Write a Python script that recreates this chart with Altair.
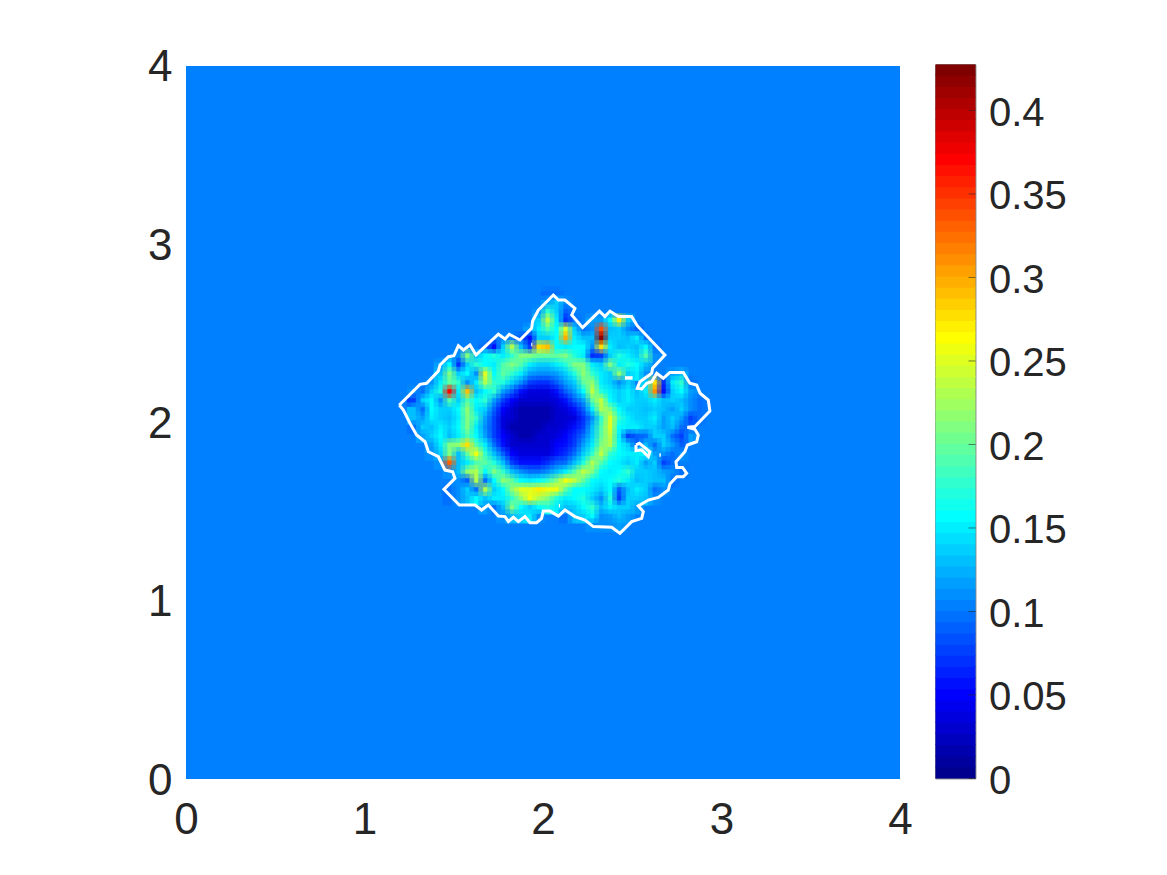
import altair as alt
import pandas as pd

JET = ["#00008F","#00009F","#0000AF","#0000BF","#0000CF","#0000DF","#0000EF","#0000FF",
       "#0010FF","#0020FF","#0030FF","#0040FF","#0050FF","#0060FF","#0070FF","#0080FF",
       "#008FFF","#009FFF","#00AFFF","#00BFFF","#00CFFF","#00DFFF","#00EFFF","#00FFFF",
       "#10FFEF","#20FFDF","#30FFCF","#40FFBF","#50FFAF","#60FF9F","#70FF8F","#80FF80",
       "#8FFF70","#9FFF60","#AFFF50","#BFFF40","#CFFF30","#DFFF20","#EFFF10","#FFFF00",
       "#FFEF00","#FFDF00","#FFCF00","#FFBF00","#FFAF00","#FF9F00","#FF8F00","#FF8000",
       "#FF7000","#FF6000","#FF5000","#FF4000","#FF3000","#FF2000","#FF1000","#FF0000",
       "#EF0000","#DF0000","#CF0000","#BF0000","#AF0000","#9F0000","#8F0000","#800000"]
CMAX = 0.4275
BACKGROUND = 0.104
CELL = 0.05
X_FIRST = 1.20
Y_TOP = 2.75

# Field values (hundredths), one row per 0.05 of y from the top; each entry = (first column, values)
ROWS = [
 (16,[10,10]),
 (16,[12,14,11]),
 (15,[11,18,14,9]),
 (15,[14,24,15,7,10,0,12,12,16,27,14]),
 (14,[12,15,19,16,25,14,10,11,34,13,14,11,9]),
 (13,[9,6,14,14,16,30,15,13,13,42,14,14,13,15,10]),
 (9,[10,6,14,23,13,8,28,29,16,15,16,16,11,28,15,13,14,13,16,10]),
 (6,[11,21,13,16,17,15,18,21,21,20,20,20,21,17,15,7,8,14,17,15,14,19,11]),
 (4,[12,16,7,14,18,16,15,19,21,19,15,14,14,15,17,21,21,15,14,21,15,17,16,13]),
 (4,[13,21,14,16,11,25,16,20,18,15,12,11,11,12,14,17,22,18,15,14,22,14,15,11,0,0,12,13]),
 (3,[11,15,20,18,11,15,23,18,17,14,11,8,7,7,9,12,14,20,22,15,14,11,14,0,14,28,7,15,18,10]),
 (1,[11,10,14,17,37,15,29,13,16,18,12,9,6,4,4,4,6,9,12,16,24,17,15,14,15,13,15,31,6,14,16,12]),
 (1,[8,14,16,11,19,14,19,16,18,12,8,5,3,3,3,3,4,6,9,12,20,24,16,14,15,14,14,15,13,14,13,11,10]),
 (1,[13,10,16,14,14,16,22,15,14,9,5,3,2,2,2,2,3,4,6,9,15,23,21,16,14,14,13,14,13,12,14,11,10]),
 (1,[13,12,15,14,13,15,21,18,12,8,4,3,2,2,2,2,3,3,4,7,11,18,25,18,15,14,14,15,12,14,12,8,10]),
 (1,[10,14,13,15,14,16,21,15,11,8,4,2,2,2,2,3,3,4,6,8,13,19,25,16,15,15,14,14,12,13,10,9]),
 (2,[12,14,16,13,15,19,16,12,8,5,3,2,2,3,3,4,5,7,10,14,20,24,15,8,9,10,14,14,10,8,12]),
 (3,[12,15,21,22,28,19,15,10,6,3,3,3,3,3,5,6,8,12,15,21,23,16,14,9,13,10,14,12,9]),
 (3,[11,14,21,13,20,26,18,13,9,5,4,4,4,4,6,7,10,14,18,24,18,16,15,15,16,12,11,10,11]),
 (4,[11,33,13,15,19,20,17,13,8,6,6,6,7,9,10,13,17,23,19,16,15,14,15,12,14,8,10]),
 (5,[11,13,22,23,16,21,18,13,11,10,10,11,13,15,19,24,21,16,15,16,18,14,14,13,12,11,10]),
 (6,[11,9,23,10,16,22,20,16,15,16,18,21,26,24,20,16,15,16,17,15,13,14,13,13,10]),
 (5,[10,11,14,10,23,14,16,22,25,25,27,26,26,20,16,16,15,14,16,9,13,15,14,10,11]),
 (5,[10,11,13,16,13,15,15,18,22,26,23,21,17,15,16,17,14,11,17,8,14,14,13,11]),
 (9,[12,10,13,21,16,14,16,17,15,13,14,16,18,13,15,14,14,12]),
 (11,[11,13,14,15,11,0,0,10,13,14,16,11,12,13,12]),
 (21,[11,11,11,12]),
]

OUTLINE_X = [1.195,1.311,1.348,1.414,1.423,1.470,1.501,1.526,1.554,1.591,1.625,1.750,1.787,1.811,1.871,1.936,1.942,1.974,2.058,
             2.086,2.123,2.179,2.161,2.222,2.316,2.347,2.375,2.422,2.497,2.528,2.683,2.614,2.609,2.543,2.528,2.553,2.581,2.609,2.637,2.674,2.711,2.786,2.823,2.861,2.880,2.926,2.935,
             2.851,2.809,2.851,2.870,2.861,2.809,2.795,2.745,2.749,2.782,2.805,2.786,2.749,2.711,2.702,2.646,2.590,2.534,2.562,2.553,2.497,2.431,2.385,2.282,2.235,2.179,2.123,2.086,2.039,
             2.002,1.992,1.964,1.927,1.899,1.862,1.834,1.806,1.787,1.750,1.694,1.656,1.619,1.531,1.445,1.507,1.494,1.451,1.414,1.358,1.339,1.292,1.255,1.218,1.195]
OUTLINE_Y = [2.098,2.214,2.220,2.289,2.323,2.369,2.375,2.431,2.407,2.435,2.379,2.495,2.468,2.495,2.463,2.528,2.569,2.631,2.715,
             2.687,2.687,2.640,2.603,2.532,2.625,2.594,2.625,2.594,2.594,2.543,2.379,2.304,2.276,2.229,2.192,2.188,2.220,2.229,2.276,2.248,2.281,2.281,2.220,2.210,2.164,2.126,2.065,
             1.977,1.973,1.962,1.930,1.892,1.874,1.836,1.780,1.748,1.748,1.715,1.696,1.696,1.655,1.621,1.580,1.565,1.532,1.500,1.462,1.444,1.378,1.412,1.416,1.453,1.472,1.509,1.475,1.503,
             1.503,1.462,1.438,1.438,1.472,1.444,1.468,1.444,1.472,1.475,1.537,1.509,1.537,1.537,1.625,1.687,1.724,1.733,1.808,1.836,1.892,1.930,1.995,2.070,2.098]
ISLAND_X = [2.521,2.540,2.599,2.590,2.553,2.521,2.521]
ISLAND_Y = [1.874,1.883,1.836,1.808,1.846,1.842,1.874]
SPECK1_X = [2.459,2.502]
SPECK1_Y = [2.250,2.250]
SPECK2_X = [2.652,2.660]
SPECK2_Y = [1.818,1.818]
SPECK3_X = [1.934,1.940]
SPECK3_Y = [2.438,2.438]
SPECK4_X = [2.089,2.095]
SPECK4_Y = [1.533,1.533]

cells = []
for i, (first, vals) in enumerate(ROWS):
    for k, v in enumerate(vals):
        if v:
            x0 = X_FIRST + CELL * (first + k)
            y1 = Y_TOP - CELL * i
            cells.append(dict(x=x0, x2=x0 + CELL + 0.003, y=y1 - CELL - 0.003, y2=y1, v=v / 100))
cells = pd.DataFrame(cells)

lines = []
for name, xs, ys in [("o", OUTLINE_X, OUTLINE_Y), ("i", ISLAND_X, ISLAND_Y)]:
    lines += [dict(g=name, n=n, x=a, y=b) for n, (a, b) in enumerate(zip(xs, ys))]
lines = pd.DataFrame(lines)

specks = []
for name, xs, ys in [("a", SPECK1_X, SPECK1_Y), ("b", SPECK2_X, SPECK2_Y), ("c", SPECK3_X, SPECK3_Y), ("d", SPECK4_X, SPECK4_Y)]:
    specks += [dict(g=name, n=n, x=a, y=b) for n, (a, b) in enumerate(zip(xs, ys))]
specks = pd.DataFrame(specks)

FONT = "Liberation Sans"
INK = "#262626"
FS = 44
FS_BAR = 40
color = alt.Color("v:Q", legend=None, scale=alt.Scale(type="quantize", domain=[0, CMAX], range=JET))
xs = alt.Scale(domain=[0, 4], nice=False, zero=False)
ys = alt.Scale(domain=[0, 4.0084], nice=False, zero=False)
xa = alt.Axis(values=[0, 1, 2, 3, 4], title=None, grid=False, domain=False, ticks=False, labelFont=FONT,
              labelFontSize=FS, labelColor=INK, labelAngle=0, labelPadding=19, format="d",
              labelFlush=False, labelOverlap=False)
ya = alt.Axis(values=[0, 1, 2, 3, 4], title=None, grid=False, domain=False, ticks=False, labelFont=FONT,
              labelFontSize=FS, labelColor=INK, labelPadding=14, format="d",
              labelFlush=False, labelOverlap=False, labelOffset=2)

bg = alt.Chart(pd.DataFrame(dict(x=[0], x2=[4], y=[0], y2=[4], v=[BACKGROUND]))).mark_rect().encode(
    x=alt.X("x:Q", scale=xs, axis=xa), x2="x2:Q",
    y=alt.Y("y:Q", scale=ys, axis=ya), y2="y2:Q", color=color)

# The same field drawn four times, a quarter cell apart, so the cell edges soften as in a shaded plot.
def heat_layer(dx, dy, opacity):
    shifted = cells.assign(x=cells.x + dx, x2=cells.x2 + dx, y=cells.y + dy, y2=cells.y2 + dy)
    return alt.Chart(shifted).mark_rect(opacity=opacity).encode(
        x=alt.X("x:Q", scale=xs), x2="x2:Q", y=alt.Y("y:Q", scale=ys), y2="y2:Q", color=color)

q = CELL / 4
heats = [heat_layer(-q, -q, 1), heat_layer(q, -q, 1 / 2), heat_layer(-q, q, 1 / 3), heat_layer(q, q, 1 / 4)]
outline = alt.Chart(lines).mark_line(color="white", strokeWidth=3, strokeJoin="miter").encode(
    x=alt.X("x:Q", scale=xs), y=alt.Y("y:Q", scale=ys), detail="g:N", order="n:Q")
dots = alt.Chart(specks).mark_line(color="white", strokeWidth=3.5).encode(
    x=alt.X("x:Q", scale=xs), y=alt.Y("y:Q", scale=ys), detail="g:N", order="n:Q")
main = alt.layer(bg, *heats, outline, dots).properties(width=714, height=714.5)

levels = pd.DataFrame([dict(a=n * CMAX / 64, b=min((n + 1) * CMAX / 64 + 0.0006, CMAX), v=(n + 0.5) * CMAX / 64) for n in range(64)])
cy = alt.Scale(domain=[0, CMAX], nice=False, zero=False)
cbar_ticks = [0, 0.05, 0.1, 0.15, 0.2, 0.25, 0.3, 0.35, 0.4]
cb_axis = alt.Axis(values=cbar_ticks, orient="right", title=None, grid=False, domain=False, ticks=False,
                   labelFont=FONT, labelFontSize=FS_BAR, labelColor=INK, labelPadding=13, format="~g",
                   labelFlush=False, labelOverlap=False, labelOffset=3)
bar = alt.Chart(levels).mark_rect().encode(
    x=alt.value(0), x2=alt.value(40),
    y=alt.Y("a:Q", scale=cy, axis=cb_axis), y2="b:Q", color=color)
marks = alt.Chart(pd.DataFrame(dict(t=cbar_ticks))).mark_rule(color=INK, strokeWidth=0.6).encode(
    x=alt.value(33), x2=alt.value(40), y=alt.Y("t:Q", scale=cy))
cb = alt.layer(bar, marks).properties(
    width=40, height=714,
    view=alt.ViewConfig(stroke=INK, strokeWidth=0.8))

chart = alt.hconcat(main, cb, spacing=21.5).resolve_scale(color="independent", y="independent", x="independent").properties(
    padding={"left": 139, "top": 37.5, "right": 0, "bottom": 0}, background="white"
).configure_view(stroke=None)
chart.save("out.html", embed_options={"renderer": "svg", "actions": False})
